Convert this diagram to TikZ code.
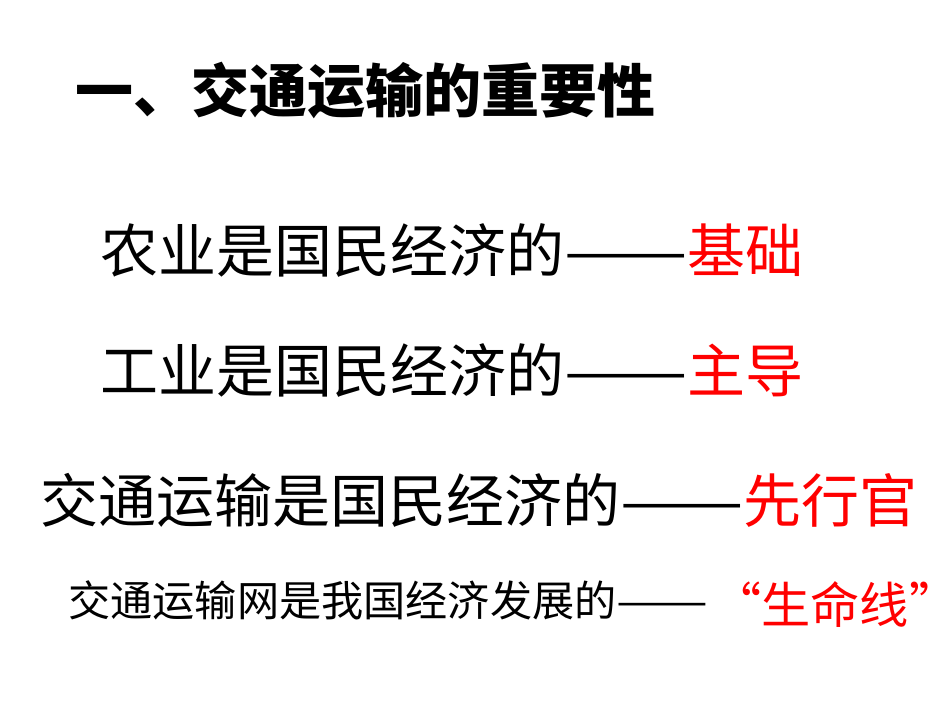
\documentclass[tikz,border=0pt]{standalone}
\usepackage{fontspec}
\setmainfont{Noto Sans CJK SC}
\usepackage{xcolor}
\usepackage{graphicx}
\usetikzlibrary{positioning}

\newcommand{\longdash}[1]{\scalebox{#1}[1]{——}}

\begin{document}
\begin{tikzpicture}[x=0.02cm, y=-0.02cm]

    \tikzset{
        lineText/.style={anchor=west, inner sep=0pt, font=\fontsize{33}{36}\selectfont},
        smallText/.style={anchor=west, inner sep=0pt, font=\fontsize{24}{28}\selectfont},
        hl/.style={text=red}
    }

    \useasboundingbox (0,0) rectangle (950,713);

    % Titel
    \node[lineText, font=\fontsize{33}{36}\selectfont\bfseries] (title) at (75,90) {一、交通运输的重要性};

    % Zeilen
    \node[lineText] (agri) at (100,250) {农业是国民经济的\longdash{1.27}\textcolor{red}{基础}};
    \node[lineText] (indu) at (100,370) {工业是国民经济的\longdash{1.27}\textcolor{red}{主导}};
    \node[lineText] (trans) at (40,500) {交通运输是国民经济的\longdash{1.27}\textcolor{red}{先行官}};
    \node[smallText] (net) at (68,600) {交通运输网是我国经济发展的\longdash{1.3}};
    \node[lineText, hl, font=\fontsize{28}{32}\selectfont] (life) at (712,605) {“生命线”};

\end{tikzpicture}
\end{document}
